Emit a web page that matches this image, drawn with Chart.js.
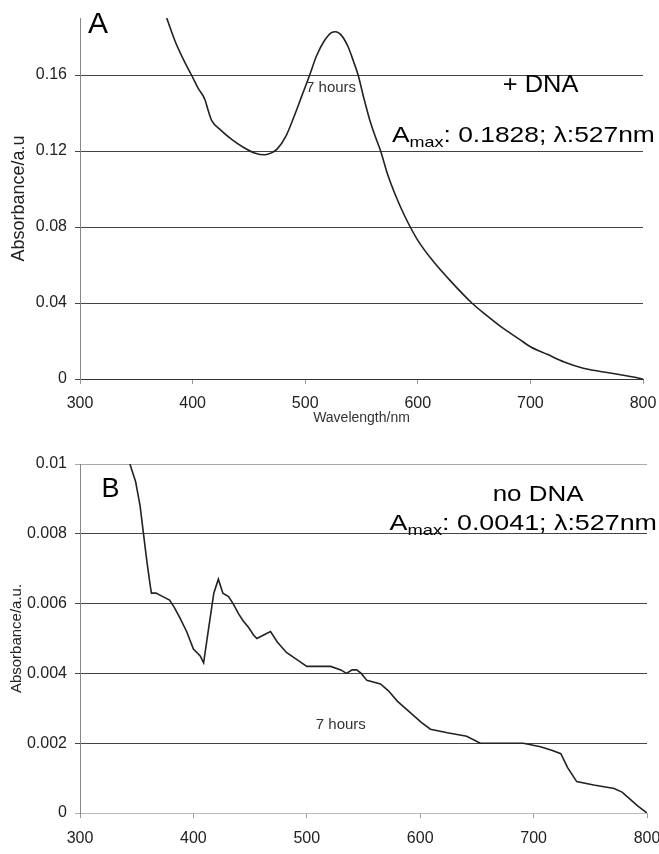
<!DOCTYPE html>
<html>
<head>
<meta charset="utf-8">
<script src="https://cdn.jsdelivr.net/npm/chart.js@4/dist/chart.umd.min.js"></script>
<style>
  html, body { margin: 0; padding: 0; background: #fff; }
  #wrap { position: relative; width: 659px; height: 854px; }
  canvas { position: absolute; left: 0; display: block; }
  #chartA { top: 0; }
  #chartB { top: 430px; }
</style>
</head>
<body>
<div id="wrap">
  <canvas id="chartA" width="659" height="430"></canvas>
  <canvas id="chartB" width="659" height="424"></canvas>
</div>
<script>
// --- Panel A (+ DNA) -----------------------------------------
const wavelengthA = [377, 385, 392, 399, 405, 411, 414, 417, 425, 435, 445, 455, 464, 470, 475,
  483, 490, 497, 504, 510, 517, 523, 527, 532, 538, 543, 547, 552, 557, 562, 567, 573, 580, 589,
  600, 615, 630, 648, 660, 675, 690, 700, 715, 730, 747, 760, 775, 790, 800];
const absorbanceA = [0.190, 0.177, 0.168, 0.160, 0.153, 0.147, 0.141, 0.136, 0.131, 0.126, 0.122,
  0.119, 0.118, 0.119, 0.121, 0.128, 0.138, 0.149, 0.160, 0.170, 0.178, 0.1822, 0.1828, 0.181,
  0.175, 0.167, 0.160, 0.148, 0.137, 0.128, 0.120, 0.108, 0.097, 0.085, 0.073, 0.061, 0.051,
  0.040, 0.034, 0.027, 0.021, 0.017, 0.013, 0.009, 0.0057, 0.0042, 0.0028, 0.0012, 0.0];
const yTicksA = [0, 0.04, 0.08, 0.12, 0.16];
const yLabelsA = ['0', '0.04', '0.08', '0.12', '0.16'];

// --- Panel B (no DNA) ----------------------------------------
const wavelengthB = [344, 349, 353, 356, 359, 362, 363, 367, 373, 379, 383, 388, 394, 400, 406,
  409, 413, 418, 422, 426, 431, 435, 440, 444, 449, 453, 456, 462, 468, 474, 482, 491, 500, 510,
  521, 530, 535, 540, 544, 548, 553, 565, 572, 580, 587, 594, 601, 609, 624, 641, 653, 670, 691,
  706, 716, 724, 730, 738, 753, 771, 778, 785, 792, 800];
const absorbanceB = [0.0100, 0.0095, 0.0088, 0.0080, 0.0072, 0.0065, 0.0063, 0.0063, 0.0062,
  0.0061, 0.0059, 0.0056, 0.0052, 0.0047, 0.0045, 0.0043, 0.0052, 0.0063, 0.0067, 0.0063, 0.0062,
  0.0060, 0.0057, 0.0055, 0.0053, 0.0051, 0.0050, 0.0051, 0.0052, 0.0049, 0.0046, 0.0044, 0.0042,
  0.0042, 0.0042, 0.0041, 0.0040, 0.0041, 0.0041, 0.0040, 0.0038, 0.0037, 0.0035, 0.0032, 0.0030,
  0.0028, 0.0026, 0.0024, 0.0023, 0.0022, 0.0020, 0.0020, 0.0020, 0.0019, 0.0018, 0.0017, 0.0013,
  0.0009, 0.0008, 0.0007, 0.0006, 0.0004, 0.0002, 0.0];
const yTicksB = [0, 0.002, 0.004, 0.006, 0.008, 0.01];
const yLabelsB = ['0', '0.002', '0.004', '0.006', '0.008', '0.01'];

const xTicks = [300, 400, 500, 600, 700, 800];

const FONT = "'Liberation Sans', Arial, sans-serif";
const INK = '#222';

// annotation texts, anchored in data coordinates (sx = horizontal stretch)
const notesA = [
  { text: 'A', x: 307, y: 0.182, size: 30, align: 'left', base: 'alphabetic' },
  { text: '+ DNA', x: 709, y: 0.1545, size: 24, sx: 1.06, align: 'center', base: 'middle' },
  { amax: '0.1828; λ:527nm', x: 577, y: 0.1247, size: 22, sx: 1.2 },
  { text: '7 hours', x: 523, y: 0.153, size: 15, align: 'center', base: 'middle', color: '#333' }
];
const notesB = [
  { text: 'B', x: 319, y: 0.00905, size: 27, align: 'left', base: 'alphabetic' },
  { text: 'no DNA', x: 704, y: 0.00893, size: 22, sx: 1.18, align: 'center', base: 'alphabetic' },
  { amax: '0.0041; λ:527nm', x: 573, y: 0.00811, size: 22, sx: 1.22 },
  { text: '7 hours', x: 530, y: 0.00252, size: 15, align: 'center', base: 'middle', color: '#333' }
];

const notesPlugin = {
  id: 'notes',
  afterDraw(chart, args, opts) {
    const ctx = chart.ctx;
    const xs = chart.scales.x, ys = chart.scales.y;
    opts.items.forEach(n => {
      const px = xs.getPixelForValue(n.x);
      const py = ys.getPixelForValue(n.y);
      ctx.save();
      ctx.translate(px, py);
      ctx.scale(n.sx || 1, 1);
      ctx.fillStyle = n.color || '#000';
      if (n.amax) {
        ctx.textAlign = 'left';
        ctx.textBaseline = 'alphabetic';
        ctx.font = n.size + 'px ' + FONT;
        ctx.fillText('A', 0, 0);
        let cx = ctx.measureText('A').width;
        ctx.font = Math.round(n.size * 0.66) + 'px ' + FONT;
        ctx.fillText('max', cx, 5);
        cx += ctx.measureText('max').width;
        ctx.font = n.size + 'px ' + FONT;
        ctx.fillText(': ' + n.amax, cx, 0);
      } else {
        ctx.textAlign = n.align;
        ctx.textBaseline = n.base;
        ctx.font = n.size + 'px ' + FONT;
        ctx.fillText(n.text, 0, 0);
      }
      ctx.restore();
    });
  }
};

function makeChart(id, xs, ys, cfg) {
  const points = xs.map((x, i) => ({ x: x, y: ys[i] }));
  return new Chart(document.getElementById(id), {
    type: 'line',
    data: {
      datasets: [{
        data: points,
        borderColor: INK,
        borderWidth: 1.6,
        pointRadius: 0,
        tension: cfg.tension,
        cubicInterpolationMode: cfg.tension ? 'monotone' : 'default',
        fill: false
      }]
    },
    options: {
      responsive: false,
      animation: false,
      events: [],
      layout: { padding: { top: cfg.top, right: cfg.right, left: 0, bottom: 0 } },
      plugins: {
        legend: { display: false },
        tooltip: { enabled: false },
        notes: { items: cfg.notes }
      },
      scales: {
        x: {
          type: 'linear',
          min: 300,
          max: 800,
          afterBuildTicks: axis => { axis.ticks = xTicks.map(v => ({ value: v })); },
          afterFit: axis => { axis.height = cfg.xHeight; axis.paddingLeft = 0; axis.paddingRight = 0; },
          grid: { drawOnChartArea: false, drawTicks: true, tickLength: 5, color: '#999' },
          border: { display: true, color: cfg.xBorder, width: 1 },
          ticks: { padding: cfg.xPad, color: INK, font: { family: FONT, size: 16 }, maxRotation: 0 },
          title: cfg.xTitle ? {
            display: true, text: cfg.xTitle, color: '#333',
            font: { family: FONT, size: 14 }, padding: { top: 0, bottom: 3 }
          } : { display: false }
        },
        y: {
          type: 'linear',
          min: 0,
          max: cfg.yMax,
          afterBuildTicks: axis => { axis.ticks = cfg.yTicks.map(v => ({ value: v })); },
          afterFit: axis => { axis.width = 80; },
          grid: {
            drawTicks: true,
            tickLength: 5,
            color: c => cfg.gridColor(c.tick ? c.tick.value : 0),
            lineWidth: 1
          },
          border: { display: true, color: '#888', width: 1 },
          ticks: {
            padding: 8,
            color: INK,
            font: { family: FONT, size: 16 },
            callback: v => cfg.yLabels[cfg.yTicks.indexOf(v)]
          },
          title: {
            display: true, text: cfg.yTitle, color: INK,
            font: { family: FONT, size: cfg.yTitleSize }, padding: { top: 8, bottom: 0 }
          }
        }
      }
    },
    plugins: [notesPlugin]
  });
}

makeChart('chartA', wavelengthA, absorbanceA, {
  tension: 0.4,
  top: 18, right: 16, xHeight: 51, xPad: 10,
  yMax: 0.19, yTicks: yTicksA, yLabels: yLabelsA,
  xBorder: '#333',
  gridColor: v => '#444',
  xTitle: 'Wavelength/nm',
  yTitle: 'Absorbance/a.u', yTitleSize: 18,
  notes: notesA
});

makeChart('chartB', wavelengthB, absorbanceB, {
  tension: 0,
  top: 34, right: 12, xHeight: 41, xPad: 11,
  yMax: 0.01, yTicks: yTicksB, yLabels: yLabelsB,
  xBorder: '#bbb',
  gridColor: v => (v === 0 || v === 0.01) ? '#aaa' : '#444',
  xTitle: null,
  yTitle: 'Absorbance/a.u.', yTitleSize: 15,
  notes: notesB
});
</script>
</body>
</html>
